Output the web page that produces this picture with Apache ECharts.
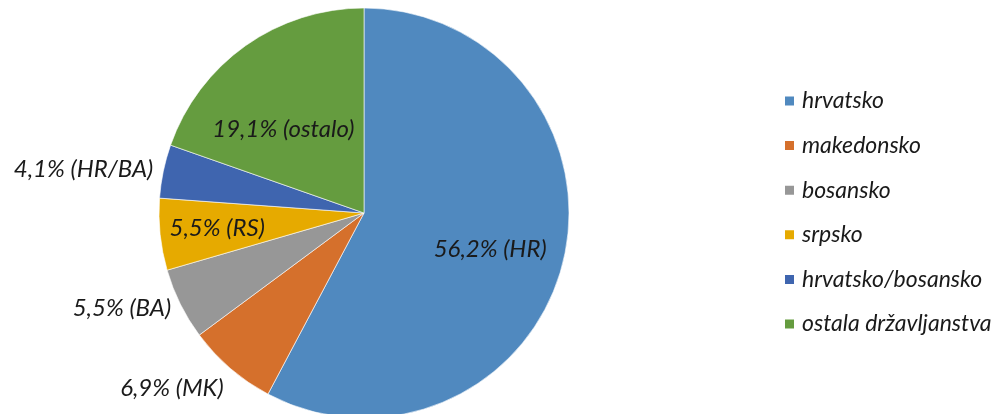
<!DOCTYPE html>
<html>
<head>
<meta charset="utf-8">
<script src="https://cdn.jsdelivr.net/npm/echarts@6/dist/echarts.min.js"></script>
<style>
html,body{margin:0;padding:0;background:#fff;}
#chart{width:997px;height:414px;}
</style>
</head>
<body>
<div id="chart"></div>
<script>
// Data
const categories = ['hrvatsko', 'makedonsko', 'bosansko', 'srpsko', 'hrvatsko/bosansko', 'ostala državljanstva'];
const values = [56.2, 6.9, 5.5, 5.5, 4.1, 19.1];
const abbreviations = ['HR', 'MK', 'BA', 'RS', 'HR/BA', 'ostalo'];

// Styles
const colors = ['#5089BF', '#D5702C', '#979797', '#E6AA00', '#3F65AF', '#659C3F'];
const labelOutside = [false, true, true, false, true, false];
const insideFactor = [0.64, 0, 0, 0.72, 0, 0.566];
const angleShiftDeg = [2, 0, 0, 0, 0, -8.7];
const FONT = 'Lato';
const CX = 364, CY = 213, R = 205;

const total = values.reduce((a, b) => a + b, 0);
const midAngles = [];
let acc = 0;
values.forEach(v => { midAngles.push((acc + v / 2) / total * 2 * Math.PI); acc += v; });

const data = categories.map((c, i) => ({
  name: c,
  value: values[i],
  itemStyle: { color: colors[i] }
}));

const chart = echarts.init(document.getElementById('chart'), null, { renderer: 'canvas' });
chart.setOption({
  animation: false,
  legend: {
    orient: 'vertical',
    left: 783,
    top: 89,
    padding: 0,
    itemWidth: 11,
    itemHeight: 11,
    itemGap: 20.6,
    icon: 'rect',
    textStyle: { fontFamily: FONT, fontStyle: 'italic', fontSize: 23, lineHeight: 24, color: '#1a1a1a', padding: [0, 0, 0, 2] },
    data: categories
  },
  series: [{
    type: 'pie',
    center: [CX, CY],
    radius: [0, R],
    startAngle: 90,
    clockwise: true,
    avoidLabelOverlap: false,
    itemStyle: { borderColor: '#ffffff', borderWidth: 0.6 },
    label: {
      show: true,
      position: 'inside',
      fontFamily: FONT,
      fontStyle: 'italic',
      fontSize: 24,
      color: '#1a1a1a',
      formatter: p => values[p.dataIndex].toFixed(1).replace('.', ',') + '% (' + abbreviations[p.dataIndex] + ')'
    },
    labelLine: { show: false },
    labelLayout: function (params) {
      const i = params.dataIndex;
      const a = midAngles[i] + angleShiftDeg[i] * Math.PI / 180;
      const sx = Math.sin(a), cy = Math.cos(a);
      if (labelOutside[i]) {
        const k = 1.05;
        let va = 'middle';
        if (cy > 0.5) va = 'bottom';
        else if (cy < -0.5) va = 'top';
        return { x: CX + R * k * sx, y: CY - R * k * cy, align: sx < 0 ? 'right' : 'left', verticalAlign: va };
      }
      const k = insideFactor[i];
      return { x: CX + R * k * sx, y: CY - R * k * cy, align: 'center', verticalAlign: 'middle' };
    },
    emphasis: { disabled: true },
    data: data
  }]
});
</script>
</body>
</html>
